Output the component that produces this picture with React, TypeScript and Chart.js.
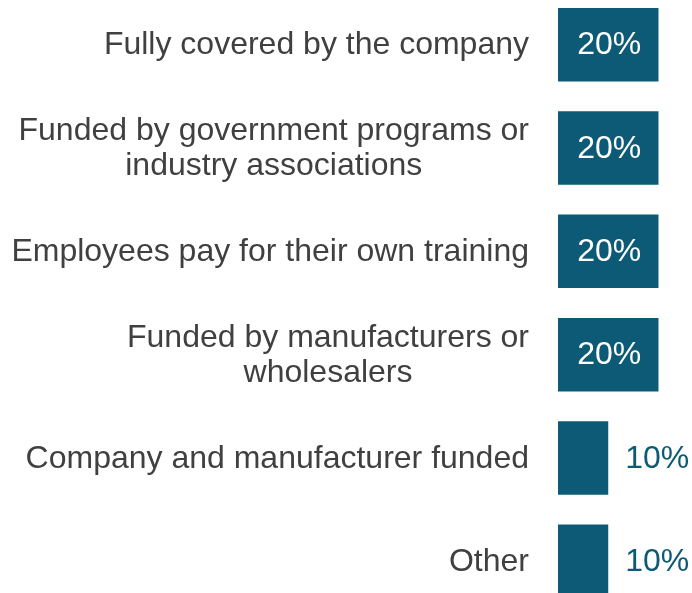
import React, { useEffect, useRef } from "react";
import { Chart, registerables } from "chart.js";

Chart.register(...registerables);

const categories: (string | string[])[] = [
  "Fully covered by the company",
  ["Funded by government programs or", "industry associations"],
  "Employees pay for their own training",
  ["Funded by manufacturers or", "wholesalers"],
  "Company and manufacturer funded",
  "Other",
];
const values: number[] = [20, 20, 20, 20, 10, 10];
const valueLabels: string[] = ["20%", "20%", "20%", "20%", "10%", "10%"];

const BAR_COLOR = "#0C5A76";
const TEXT_COLOR = "#404040";
const FONT = "'Liberation Sans', Arial, sans-serif";
const FONT_SIZE = 32;
const LINE_H = 35;

const labelPlugin = {
  id: "customLabels",
  afterDatasetsDraw(chart: any) {
    const ctx = chart.ctx;
    const meta = chart.getDatasetMeta(0);
    const yScale = chart.scales.y;
    ctx.save();
    ctx.font = `${FONT_SIZE}px ${FONT}`;
    ctx.textBaseline = "middle";
    // category labels: block right-aligned, lines centered within block
    categories.forEach((lab, i) => {
      const lines = Array.isArray(lab) ? lab : [lab];
      const maxW = Math.max(...lines.map((l) => ctx.measureText(l).width));
      const right = yScale.right - 29;
      const cx = right - maxW / 2;
      const cy = yScale.getPixelForValue(i);
      ctx.fillStyle = TEXT_COLOR;
      ctx.textAlign = "center";
      lines.forEach((l, k) => {
        const y = cy + (k - (lines.length - 1) / 2) * LINE_H + 1;
        ctx.fillText(l, cx, y);
      });
    });
    // value labels
    meta.data.forEach((bar: any, i: number) => {
      const v = values[i];
      const txt = valueLabels[i];
      if (v >= 15) {
        ctx.fillStyle = "#FFFFFF";
        ctx.textAlign = "center";
        ctx.fillText(txt, (bar.x + bar.base) / 2 + 1, bar.y + 1);
      } else {
        ctx.fillStyle = BAR_COLOR;
        ctx.textAlign = "left";
        ctx.fillText(txt, bar.x + 17, bar.y + 1);
      }
    });
    ctx.restore();
  },
};

export default function App() {
  const ref = useRef<HTMLCanvasElement | null>(null);
  useEffect(() => {
    if (!ref.current) return;
    const chart = new Chart(ref.current, {
      type: "bar",
      data: {
        labels: categories,
        datasets: [
          {
            data: values,
            backgroundColor: BAR_COLOR,
            borderWidth: 0,
            barPercentage: 0.711,
            categoryPercentage: 1,
          },
        ],
      },
      options: {
        indexAxis: "y",
        animation: false,
        responsive: true,
        maintainAspectRatio: false,
        layout: { padding: 0 },
        plugins: { legend: { display: false }, tooltip: { enabled: false } },
        scales: {
          x: { display: false, min: 0, max: 26.67 },
          y: {
            grid: { display: false, drawTicks: false },
            border: { display: false },
            ticks: { display: false },
            afterFit(scale: any) {
              scale.width = 558;
              scale.paddingTop = 0;
              scale.paddingBottom = 0;
            },
          },
        },
      },
      plugins: [labelPlugin],
    });
    return () => chart.destroy();
  }, []);
  return (
    <div style={{ position: "fixed", left: 0, top: -7.4, width: 692, height: 620 }}>
      <canvas ref={ref} />
    </div>
  );
}
